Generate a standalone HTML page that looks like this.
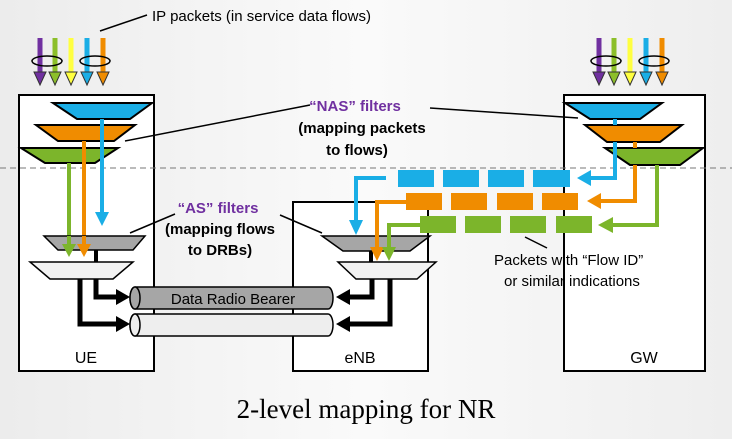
<!DOCTYPE html>
<html><head><meta charset="utf-8"><style>
html,body{margin:0;padding:0;}
body{width:732px;height:434px;overflow:hidden;background:linear-gradient(90deg,#ececec,#fafafa 50%,#eeeeee);}
svg text{font-family:"Liberation Sans",Arial,sans-serif;}
</style></head><body>
<svg width="732" height="434" viewBox="0 0 732 434" xmlns="http://www.w3.org/2000/svg">
<!-- boxes -->
<rect x="19" y="95" width="135" height="276" fill="#fff" stroke="#000" stroke-width="2"/>
<rect x="293" y="202" width="135" height="169" fill="#fff" stroke="#000" stroke-width="2"/>
<rect x="564" y="95" width="141" height="276" fill="#fff" stroke="#000" stroke-width="2"/>
<line x1="0" y1="168" x2="732" y2="168" stroke="#777" stroke-width="1" stroke-dasharray="6,4"/>

<!-- input arrows -->
<g id="inp">
<g stroke-width="5"><line x1="40" y1="38" x2="40" y2="74" stroke="#7030a0"/><line x1="55" y1="38" x2="55" y2="74" stroke="#8cbf2a"/><line x1="71" y1="38" x2="71" y2="74" stroke="#ffff40"/><line x1="87" y1="38" x2="87" y2="74" stroke="#1aaee6"/><line x1="103" y1="38" x2="103" y2="74" stroke="#f08c00"/></g>
<g stroke="#333" stroke-width="1">
<path d="M34,72 L46,72 L40,85z" fill="#7030a0"/><path d="M49,72 L61,72 L55,85z" fill="#8cbf2a"/><path d="M65,72 L77,72 L71,85z" fill="#ffff40"/><path d="M81,72 L93,72 L87,85z" fill="#1aaee6"/><path d="M97,72 L109,72 L103,85z" fill="#f08c00"/>
</g>
<ellipse cx="47" cy="61" rx="15" ry="5" fill="none" stroke="#000" stroke-width="1.5"/>
<ellipse cx="95" cy="61" rx="15" ry="5" fill="none" stroke="#000" stroke-width="1.5"/>
</g>
<use href="#inp" x="559"/>

<!-- UE NAS -->
<path d="M53,103 L152,103 L130,119 L77,119z" fill="#1aaee6" stroke="#000" stroke-width="2"/>
<path d="M36,125 L135,125 L114,141 L58,141z" fill="#f08c00" stroke="#000" stroke-width="2"/>
<path d="M21,148 L118,148 L95,163 L45,163z" fill="#7cb52b" stroke="#000" stroke-width="2"/>
<line x1="102" y1="119" x2="102" y2="214" stroke="#1aaee6" stroke-width="4"/><path d="M95,212 L109,212 L102,226z" fill="#1aaee6"/>
<line x1="102" y1="141" x2="102" y2="148" stroke="#1aaee6" stroke-width="4"/>
<line x1="84" y1="141" x2="84" y2="240" stroke="#f08c00" stroke-width="4"/><path d="M77,238 L91,238 L84,252z" fill="#f08c00"/>
<line x1="69" y1="163" x2="69" y2="240" stroke="#7cb52b" stroke-width="4"/><path d="M62,238 L76,238 L69,252z" fill="#7cb52b"/>

<!-- UE AS -->
<path d="M44,236 L145,236 L133,250 L58,250z" fill="#a6a6a6" stroke="#000" stroke-width="1.5"/>
<line x1="69" y1="236" x2="69" y2="252" stroke="#7cb52b" stroke-width="4"/><path d="M62,244 L76,244 L69,257z" fill="#7cb52b"/>
<line x1="84" y1="236" x2="84" y2="252" stroke="#f08c00" stroke-width="4"/><path d="M77,244 L91,244 L84,257z" fill="#f08c00"/>
<line x1="96" y1="250" x2="96" y2="263" stroke="#000" stroke-width="4"/>
<path d="M30,262 L133,262 L113,279 L50,279z" fill="#f2f2f2" stroke="#000" stroke-width="1.5"/>
<path d="M80,279 L80,324 L118,324" fill="none" stroke="#000" stroke-width="5"/><path d="M116,316 L130,324 L116,332z" fill="#000"/>
<path d="M96,279 L96,297 L118,297" fill="none" stroke="#000" stroke-width="5"/><path d="M116,289 L130,297 L116,305z" fill="#000"/>

<!-- cylinders -->
<path d="M135,287 L328,287 A5,11 0 0 1 328,309 L135,309 A5,11 0 0 1 135,287z" fill="#a6a6a6" stroke="#000" stroke-width="1.5"/>
<ellipse cx="135" cy="298" rx="5" ry="11" fill="#a6a6a6" stroke="#000" stroke-width="1.5"/>
<text x="233" y="304" font-size="15" text-anchor="middle">Data Radio Bearer</text>
<path d="M135,314 L328,314 A5,11 0 0 1 328,336 L135,336 A5,11 0 0 1 135,314z" fill="#eeeeee" stroke="#000" stroke-width="1.5"/>
<ellipse cx="135" cy="325" rx="5" ry="11" fill="#eeeeee" stroke="#000" stroke-width="1.5"/>

<!-- eNB AS -->
<path d="M322,236 L430,236 L410,251 L343,251z" fill="#a6a6a6" stroke="#000" stroke-width="1.5"/>
<path d="M386,178 L356,178 L356,222" fill="none" stroke="#1aaee6" stroke-width="4"/><path d="M349,220 L363,220 L356,235z" fill="#1aaee6"/>
<line x1="371" y1="251" x2="371" y2="263" stroke="#000" stroke-width="4"/>
<path d="M338,262 L436,262 L417,279 L356,279z" fill="#f2f2f2" stroke="#000" stroke-width="1.5"/>
<path d="M390,279 L390,324 L348,324" fill="none" stroke="#000" stroke-width="5"/><path d="M350,316 L336,324 L350,332z" fill="#000"/>
<path d="M372,279 L372,297 L348,297" fill="none" stroke="#000" stroke-width="5"/><path d="M350,289 L336,297 L350,305z" fill="#000"/>
<path d="M407,202 L377,202 L377,250" fill="none" stroke="#f08c00" stroke-width="4"/><path d="M370,247 L384,247 L377,261z" fill="#f08c00"/>
<path d="M420,225 L389,225 L389,250" fill="none" stroke="#7cb52b" stroke-width="4"/><path d="M382,247 L396,247 L389,261z" fill="#7cb52b"/>

<!-- packets -->
<g fill="#1aaee6"><rect x="398" y="170" width="36" height="17"/><rect x="443" y="170" width="36" height="17"/><rect x="488" y="170" width="36" height="17"/><rect x="533" y="170" width="37" height="17"/></g>
<g fill="#f08c00"><rect x="406" y="193" width="36" height="17"/><rect x="451" y="193" width="36" height="17"/><rect x="497" y="193" width="36" height="17"/><rect x="542" y="193" width="36" height="17"/></g>
<g fill="#7cb52b"><rect x="420" y="216" width="36" height="17"/><rect x="465" y="216" width="36" height="17"/><rect x="510" y="216" width="36" height="17"/><rect x="556" y="216" width="36" height="17"/></g>

<!-- GW NAS -->
<path d="M565,103 L662,103 L640,119 L590,119z" fill="#1aaee6" stroke="#000" stroke-width="2"/>
<path d="M585,125 L682,125 L660,142 L607,142z" fill="#f08c00" stroke="#000" stroke-width="2"/>
<path d="M605,148 L703,148 L680,165 L630,165z" fill="#7cb52b" stroke="#000" stroke-width="2"/>
<line x1="615" y1="119" x2="615" y2="125" stroke="#1aaee6" stroke-width="4"/>
<path d="M615,142 L615,178 L590,178" fill="none" stroke="#1aaee6" stroke-width="4"/><path d="M591,170 L577,178 L591,186z" fill="#1aaee6"/>
<line x1="635" y1="142" x2="635" y2="148" stroke="#f08c00" stroke-width="4"/>
<path d="M635,165 L635,201 L600,201" fill="none" stroke="#f08c00" stroke-width="4"/><path d="M601,193 L587,201 L601,209z" fill="#f08c00"/>
<path d="M657,165 L657,225 L612,225" fill="none" stroke="#7cb52b" stroke-width="4"/><path d="M613,217 L598,225 L613,233z" fill="#7cb52b"/>

<!-- labels/lines -->
<g stroke="#000" stroke-width="1.5">
<line x1="100" y1="31" x2="147" y2="15"/>
<line x1="125" y1="141" x2="310" y2="105"/>
<line x1="430" y1="108" x2="578" y2="118"/>
<line x1="130" y1="233" x2="175" y2="214"/>
<line x1="280" y1="215" x2="322" y2="233"/>
<line x1="525" y1="237" x2="547" y2="248"/>
</g>
<text x="152" y="21" font-size="15">IP packets (in service data flows)</text>
<g font-size="15" font-weight="bold" text-anchor="middle">
<text x="355" y="111" fill="#7030a0">“NAS” filters</text>
<text x="362" y="133">(mapping packets</text>
<text x="357" y="155">to flows)</text>
<text x="218" y="213" fill="#7030a0">“AS” filters</text>
<text x="220" y="234">(mapping flows</text>
<text x="220" y="255">to DRBs)</text>
</g>
<text x="494" y="265" font-size="15">Packets with “Flow ID”</text>
<text x="504" y="286" font-size="15">or similar indications</text>
<g font-size="16" text-anchor="middle"><text x="86" y="363">UE</text><text x="360" y="363">eNB</text><text x="644" y="363">GW</text></g>
<text x="366" y="418" font-size="27" text-anchor="middle" style="font-family:'Liberation Serif',serif">2-level mapping for NR</text>
</svg>
</body></html>
